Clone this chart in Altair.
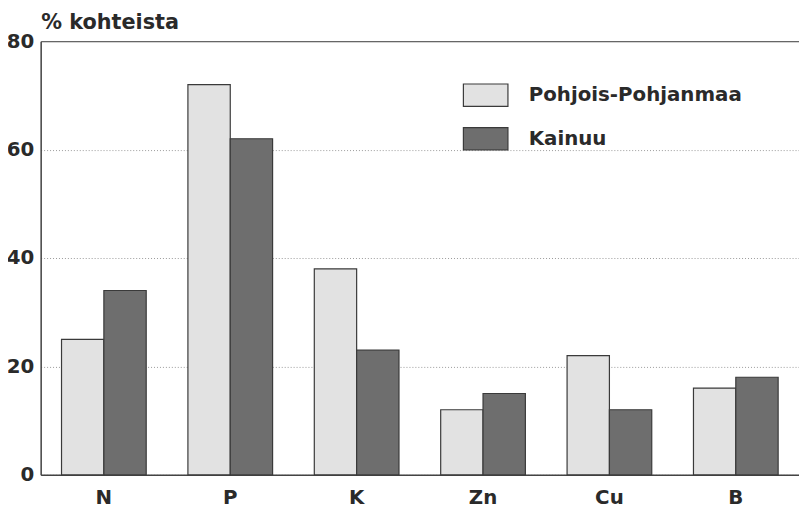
import altair as alt
import pandas as pd

nutrients = ["N", "P", "K", "Zn", "Cu", "B"]
regions = ["Pohjois-Pohjanmaa", "Kainuu"]
pohjois = [25, 72, 38, 12, 22, 16]
kainuu = [34, 62, 23, 15, 12, 18]
y_ticks = [0, 20, 40, 60, 80]

rows = []
for i, n in enumerate(nutrients):
    rows.append({"ravinne": n, "alue": regions[0], "osuus": pohjois[i]})
    rows.append({"ravinne": n, "alue": regions[1], "osuus": kainuu[i]})
df = pd.DataFrame(rows)

FONT = "DejaVu Sans"
TXT = "#2a2a2a"

chart = alt.Chart(df).mark_bar(stroke="#3a3a3a", strokeWidth=1.2).encode(
    x=alt.X("ravinne:N", sort=nutrients, title=None,
            scale=alt.Scale(paddingInner=0.33, paddingOuter=0.165),
            axis=alt.Axis(labelAngle=0, labelFont=FONT, labelFontSize=20, labelFontWeight="bold",
                          labelColor=TXT, labelPadding=13, ticks=False, domainColor="#444",
                          domainWidth=1.5, grid=False)),
    xOffset=alt.XOffset("alue:N", sort=regions),
    y=alt.Y("osuus:Q", title="% kohteista",
            scale=alt.Scale(domain=[0, 80], nice=False),
            axis=alt.Axis(values=y_ticks, labelFont=FONT, labelFontSize=20, labelFontWeight="bold",
                          labelColor=TXT, labelPadding=7, ticks=False, domainColor="#444",
                          domainWidth=1.5,
                          gridColor=alt.condition("datum.value === 80", alt.value("#666"), alt.value("#9a9a9a")),
                          gridDash=alt.condition("datum.value === 80", alt.value([1, 0]), alt.value([1, 2])),
                          gridWidth=alt.condition("datum.value === 80", alt.value(1.3), alt.value(1)),
                          titleAngle=0, titleX=0, titleY=-13, titleAlign="left",
                          titleBaseline="alphabetic", titleFont=FONT, titleFontSize=21,
                          titleFontWeight="bold", titleColor=TXT)),
    color=alt.Color("alue:N", sort=regions,
                    scale=alt.Scale(domain=regions, range=["#e2e2e2", "#6e6e6e"]),
                    legend=alt.Legend(orient="none", legendX=426, legendY=31, title=None,
                                      symbolType="M-1,-0.5L1,-0.5L1,0.5L-1,0.5Z",
                                      symbolSize=2025, symbolStrokeColor="#3a3a3a",
                                      symbolStrokeWidth=1.2, symbolOpacity=1,
                                      labelFont=FONT, labelFontSize=20, labelFontWeight="bold",
                                      labelColor=TXT, labelOffset=20, rowPadding=6,
                                      labelLimit=400)),
).properties(
    width=766, height=438,
    autosize=alt.AutoSizeParams(type="none"),
    padding={"left": 33, "top": 31, "right": 0, "bottom": 32},
).configure_view(stroke=None).configure(background="white")

chart.save("out.html", embed_options={"renderer": "svg", "actions": False})
